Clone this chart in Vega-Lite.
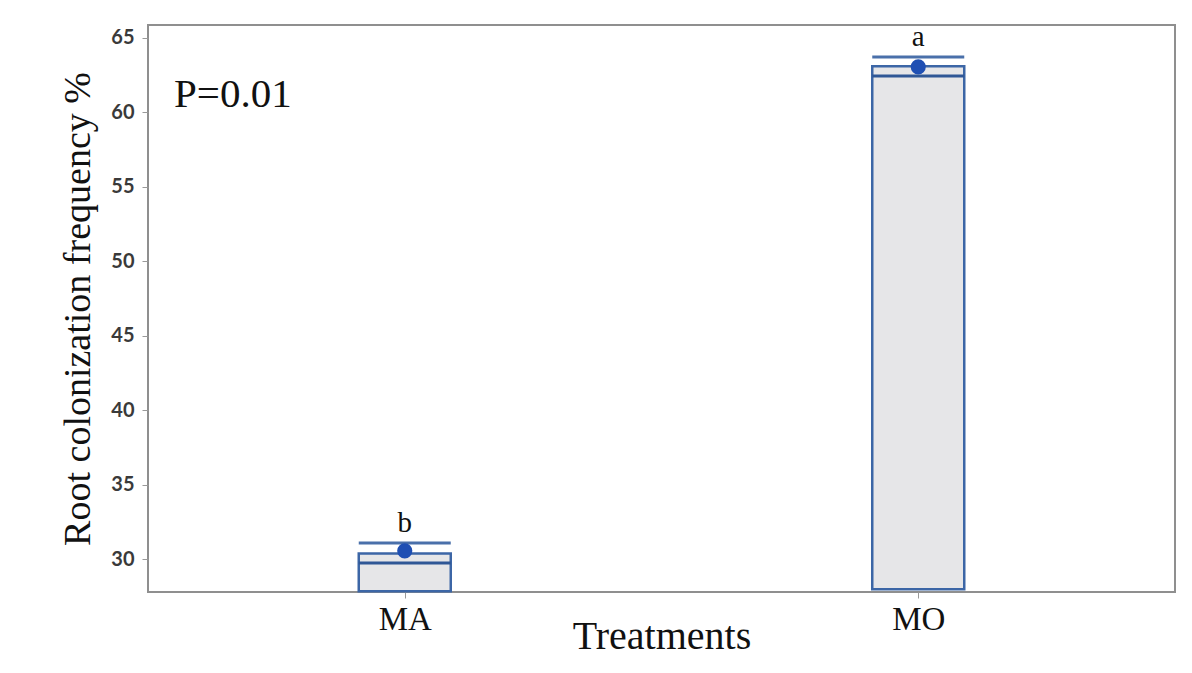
{
  "$schema": "https://vega.github.io/schema/vega-lite/v6.json",
  "width": 1027,
  "height": 567,
  "autosize": "none",
  "padding": {"left": 148, "top": 25, "right": 17, "bottom": 81},
  "background": "white",
  "title": {
    "text": "P=0.01",
    "anchor": "start",
    "frame": "group",
    "orient": "top",
    "offset": 0,
    "baseline": "top",
    "dx": 26,
    "dy": 93,
    "font": "Liberation Serif",
    "fontSize": 41,
    "fontWeight": "normal",
    "color": "#111111"
  },
  "config": {
    "view": {"stroke": "#8f8f8f", "strokeWidth": 2},
    "axis": {"grid": false}
  },
  "data": {
    "values": [
      {"treatment": "MA", "low": 27.85, "q3": 30.38, "med": 29.75, "whisk": 31.09, "mean": 30.56, "letter": "b"},
      {"treatment": "MO", "low": 27.99, "q3": 63.09, "med": 62.42, "whisk": 63.71, "mean": 63.04, "letter": "a"}
    ]
  },
  "encoding": {
    "x": {
      "field": "treatment",
      "type": "nominal",
      "scale": {"type": "point", "padding": 0.5},
      "axis": {
        "title": "Treatments",
        "labelAngle": 0,
        "labelFont": "Liberation Serif",
        "labelFontSize": 33,
        "labelColor": "#111111",
        "labelPadding": 5,
        "tickSize": 6,
        "tickColor": "#999999",
        "domain": false,
        "titleFont": "Liberation Serif",
        "titleFontSize": 40,
        "titleFontWeight": "normal",
        "titleColor": "#111111",
        "titlePadding": -20
      }
    }
  },
  "layer": [
    {
      "mark": {"type": "bar", "size": 92, "fill": "#e6e6e8", "stroke": "#3c66a6", "strokeWidth": 2.5},
      "encoding": {
        "y": {
          "field": "q3",
          "type": "quantitative",
          "scale": {"domain": [27.8, 65.85], "nice": false, "zero": false},
          "axis": {
            "title": "Root colonization frequency %",
            "values": [30, 35, 40, 45, 50, 55, 60, 65],
            "labelFont": "Lato",
            "labelFontWeight": "bold",
            "labelFontSize": 20,
            "labelColor": "#3a3a3a",
            "labelPadding": 8,
            "tickSize": 6,
            "tickColor": "#999999",
            "domain": false,
            "titleFont": "Liberation Serif",
            "titleFontSize": 38,
            "titleFontWeight": "normal",
            "titleColor": "#111111",
            "titlePadding": 13
          }
        },
        "y2": {"field": "low"}
      }
    },
    {
      "mark": {"type": "tick", "size": 92, "thickness": 3, "color": "#2f5796", "opacity": 1},
      "encoding": {"y": {"field": "med", "type": "quantitative"}}
    },
    {
      "mark": {"type": "tick", "size": 92, "thickness": 3, "color": "#4a70aa", "opacity": 1},
      "encoding": {"y": {"field": "whisk", "type": "quantitative"}}
    },
    {
      "mark": {"type": "point", "filled": true, "size": 230, "color": "#1f4fb3", "opacity": 1},
      "encoding": {"y": {"field": "mean", "type": "quantitative"}}
    },
    {
      "mark": {"type": "text", "font": "Liberation Serif", "fontSize": 29, "baseline": "bottom", "dy": -5, "color": "#111111"},
      "encoding": {
        "y": {"field": "whisk", "type": "quantitative"},
        "text": {"field": "letter"}
      }
    }
  ]
}
